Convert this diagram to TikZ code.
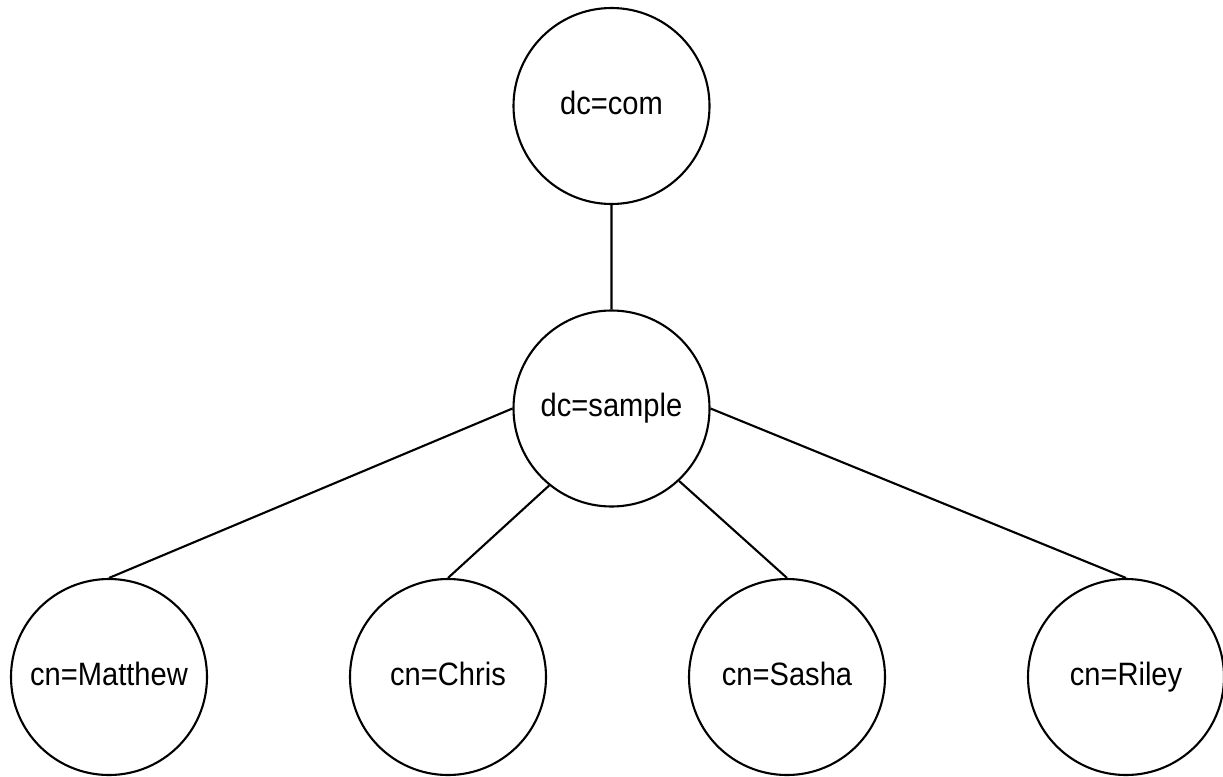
\documentclass[tikz,border=0pt]{standalone}
\usepackage{fontspec}
\setmainfont[FakeStretch=0.9]{Liberation Sans}
\newcommand{\rdn}[1]{\fontsize{23}{27}\selectfont #1} % Entry name.

\begin{document}
\begin{tikzpicture}[line width=1.5pt,
                    every node/.style={circle,draw,minimum size=4.9cm,inner sep=0pt,
                                       text height=16.5pt,text depth=4.8pt},
                    fromanchor/.style={edge from parent path={(\tikzparentnode.#1) -- (\tikzchildnode.north)}},
                    level 1/.style={level distance=7.5625cm},
                    level 2/.style={level distance=6.7125cm,sibling distance=8.475cm,
                                    every child node/.style={xshift=0.15cm}}]
\useasboundingbox (0,0) rectangle (30.575,-19.4);
\node (com) at (15.2875,-2.65) { \rdn{dc=com} }
  child { node (sample) {\rdn{dc=sample}}
    child[fromanchor=west] { node (matthew) {\rdn{cn=Matthew}} }
    child[fromanchor=-129] { node (chris) {\rdn{cn=Chris}} }
    child[fromanchor=-47] { node (sasha) {\rdn{cn=Sasha}} }
    child[fromanchor=east] { node (riley) {\rdn{cn=Riley}} }
  }
;
\end{tikzpicture}
\end{document}
